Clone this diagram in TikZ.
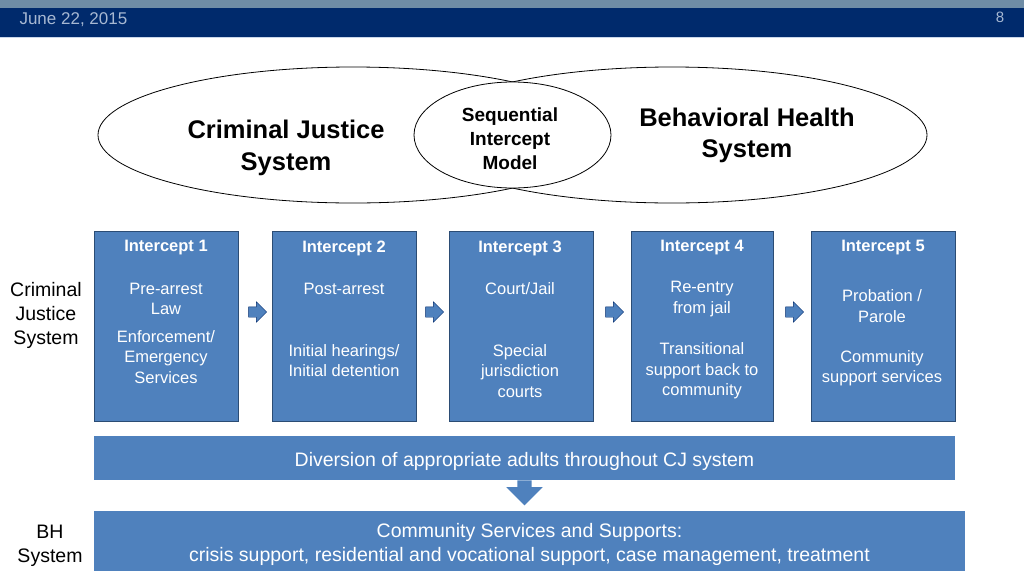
\documentclass[tikz,border=0pt]{standalone}
\usepackage{fontspec}
\setmainfont{Liberation Sans}
\usetikzlibrary{shapes.geometric,shapes.arrows}

\definecolor{azul}{HTML}{4F81BD}
\definecolor{azulborde}{HTML}{2B4C74}
\definecolor{marino}{HTML}{002A6C}
\definecolor{gris}{HTML}{6F8DA6}
\definecolor{fecha}{HTML}{A7B8D2}
\definecolor{linea}{HTML}{C9D6EA}

\tikzset{
  caja/.style={draw=azulborde, fill=azul, minimum width=144pt, minimum height=190pt, inner sep=0pt},
  titulo/.style={text=white, font=\fontsize{16.5}{20}\selectfont\bfseries},
  texto/.style={text=white, align=center, font=\fontsize{16.5}{20.5}\selectfont},
  flecha/.style={single arrow, draw=marino, fill=azul, inner sep=5pt,
    single arrow head extend=5pt, minimum height=18pt},
  elipse/.style={ellipse, draw, line width=0.8pt, inner sep=0pt},
  barra/.style={fill=azul, inner sep=0pt},
  barratxt/.style={text=white, align=center, font=\fontsize{19.5}{24}\selectfont},
  lado/.style={align=center, font=\fontsize{19.5}{24}\selectfont}
}

\begin{document}
\begin{tikzpicture}[x=1pt, y=-1pt]

    \useasboundingbox (0,0) rectangle (1024,576);

    % Encabezado
    \fill[gris] (0,0) rectangle (1024,8);
    \fill[marino] (0,8) rectangle (1024,37);
    \draw[linea, line width=1pt] (0,37.5) -- (1024,37.5);
    \node[text=fecha, anchor=west, font=\fontsize{17}{19}\selectfont] (fecha) at (16,20) {June 22, 2015};
    \node[text=fecha, font=\fontsize{15}{18}\selectfont] (pag) at (1000,17) {8};

    % Elipses
    \node[elipse, minimum width=510pt, minimum height=136pt] (cjs) at (353,135) {};
    \node[elipse, minimum width=510pt, minimum height=136pt] (bhs) at (672,135) {};
    \node[elipse, fill=white, minimum width=197pt, minimum height=106pt] (sim) at (512.5,135) {};
    \node[align=center, font=\fontsize{19}{24}\selectfont\bfseries] (simtxt) at (510,139)
        {Sequential\\Intercept\\Model};
    \node[align=center, font=\fontsize{25.5}{32}\selectfont\bfseries] (cjstxt) at (286,148)
        {Criminal Justice\\System};
    \node[align=center, font=\fontsize{25.5}{31}\selectfont\bfseries] (bhstxt) at (747,135.5)
        {Behavioral Health\\System};

    % Etiquetas laterales
    \node[lado] (cjlado) at (46,315) {Criminal\\Justice\\System};
    \node[lado] (bhlado) at (50,545.5) {BH\\System};

    % Intercepts
    \node[caja] (b1) at (166,326) {};
    \node[caja] (b2) at (344,326) {};
    \node[caja] (b3) at (521,326) {};
    \node[caja, minimum width=142pt] (b4) at (702,326) {};
    \node[caja] (b5) at (883,326) {};

    \node[titulo] (t1) at (166,248) {Intercept 1};
    \node[titulo] (t2) at (344,248) {Intercept 2};
    \node[titulo] (t3) at (520,248) {Intercept 3};
    \node[titulo] (t4) at (702,248) {Intercept 4};
    \node[titulo] (t5) at (883,248) {Intercept 5};

    \node[texto] (b1a) at (166,299) {Pre-arrest\\Law};
    \node[texto] (b1b) at (166,357) {Enforcement/\\Emergency\\Services};
    \node[texto] (b2a) at (344,289) {Post-arrest};
    \node[texto] (b2b) at (344,360.5) {Initial hearings/\\Initial detention};
    \node[texto] (b3a) at (520,289) {Court/Jail};
    \node[texto] (b3b) at (520,371) {Special\\jurisdiction\\courts};
    \node[texto] (b4a) at (702,299) {Re-entry\\from jail};
    \node[texto] (b4b) at (702,371) {Transitional\\support back to\\community};
    \node[texto] (b5a) at (882,306) {Probation /\\Parole};
    \node[texto] (b5b) at (882,368) {Community\\support services};

    % Flechas
    \node[flecha] (f12) at (255,312) {};
    \node[flecha] (f23) at (432,312) {};
    \node[flecha] (f34) at (612,312) {};
    \node[flecha] (f45) at (792,312) {};

    % Barras inferiores
    \node[barra, minimum width=861pt, minimum height=44pt] (div) at (524.5,458) {};
    \node[barratxt] (divtxt) at (524.5,461)
        {Diversion of appropriate adults throughout CJ system};
    \node[single arrow, fill=azul, inner sep=7pt, single arrow head extend=11pt,
        minimum height=25pt, rotate=-90, anchor=tail] (fdiv) at (div.south) {};
    \node[barra, minimum width=871pt, minimum height=60pt] (css) at (529.5,541) {};
    \node[barratxt] (csstxt) at (529.5,544)
        {Community Services and Supports:\\crisis support, residential and vocational support, case management, treatment};

\end{tikzpicture}
\end{document}
